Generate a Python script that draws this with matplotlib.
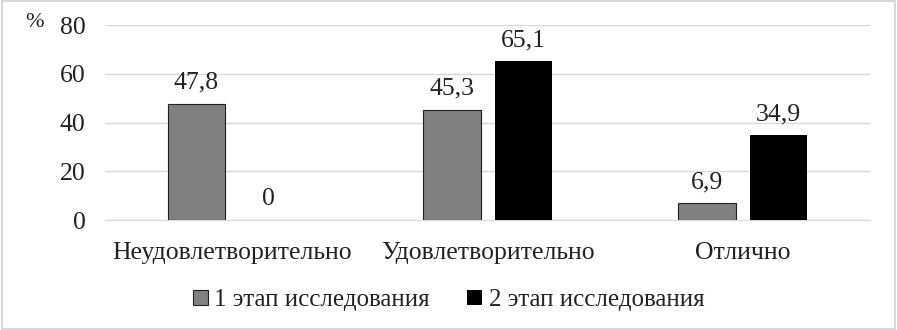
import matplotlib.pyplot as plt
import numpy as np
from matplotlib.patches import Rectangle

categories = ["Неудовлетворительно", "Удовлетворительно", "Отлично"]
stage1 = [47.8, 45.3, 6.9]
stage2 = [0, 65.1, 34.9]
labels1 = ["47,8", "45,3", "6,9"]
labels2 = ["0", "65,1", "34,9"]
series_names = ["1 этап исследования", "2 этап исследования"]

plt.rcParams['font.family'] = ['Liberation Serif', 'DejaVu Serif']

fig = plt.figure(figsize=(8.97, 3.30), dpi=100)
ax = fig.add_axes([0.117, 0.333, 0.853, 0.591])

x = np.arange(len(categories))
w = 0.227
gap = 0.055
b1 = ax.bar(x - (w + gap) / 2, stage1, w, color='#808080', edgecolor='#222222', linewidth=0.8,
            label=series_names[0], zorder=3)
b2 = ax.bar(x + (w + gap) / 2, stage2, w, color='#000000', linewidth=0,
            label=series_names[1], zorder=3)

for bars, labs in ((b1, labels1), (b2, labels2)):
    for r, t in zip(bars, labs):
        ax.annotate(t, (r.get_x() + r.get_width() / 2, r.get_height()),
                    xytext=(0, 7), textcoords='offset points', ha='center', va='bottom',
                    fontsize=18.5, color='#222222')

ax.set_xlim(-0.5, 2.5)
ax.set_ylim(0, 80)
ax.set_yticks([0, 20, 40, 60, 80])
ax.set_xticks(x)
ax.set_xticklabels(categories)
ax.tick_params(axis='both', length=0, labelsize=18.5, colors='#222222')
ax.tick_params(axis='x', pad=16)
ax.tick_params(axis='y', pad=14)
ax.grid(axis='y', color='#d9d9d9', linewidth=1, zorder=0)
for s in ['top', 'right', 'left']:
    ax.spines[s].set_visible(False)
ax.spines['bottom'].set_color('#d9d9d9')

fig.text(0.039, 0.932, "%", fontsize=16, color='#222222', ha='center', va='center')

leg = fig.legend(handles=[b1, b2], labels=series_names, loc='center', bbox_to_anchor=(0.5, 0.09),
                 ncol=2, frameon=False, fontsize=18, handlelength=0.6, handleheight=0.6,
                 handletextpad=0.25, columnspacing=1.5, labelcolor='#222222')

fig.patches.append(Rectangle((0.002, 0.003), 0.996, 0.994, transform=fig.transFigure,
                             fill=False, edgecolor='#d9d9d9', linewidth=1.5))

fig.savefig("out.png", dpi=100)
